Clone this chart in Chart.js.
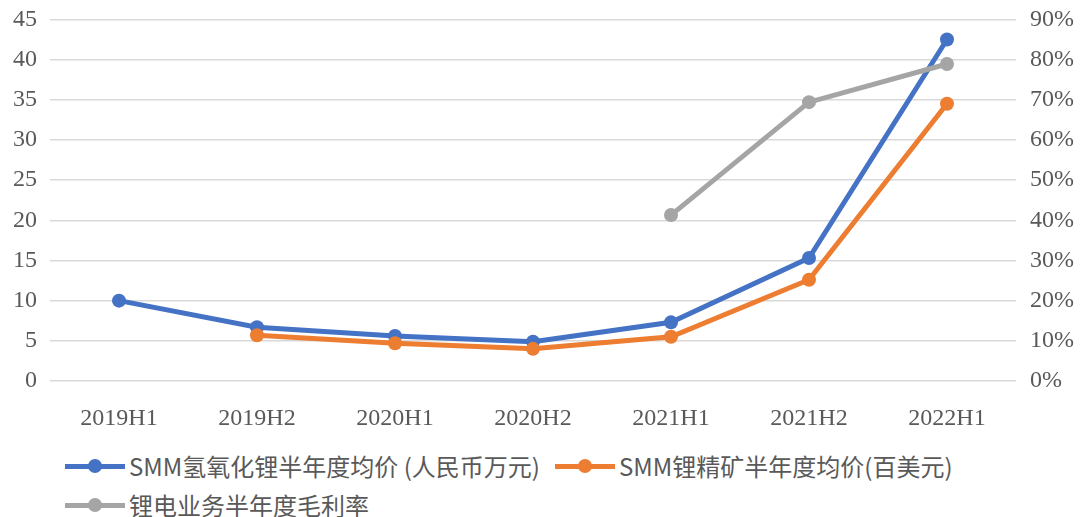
<!DOCTYPE html>
<html lang="zh">
<head>
    <meta charset="UTF-8">
    <title>锂价与毛利率</title>
    <style>
        body {
            margin: 0;
            background: #fff;
            width: 1082px;
            height: 517px;
            overflow: hidden;
        }

        .wrap {
            position: relative;
            width: 1082px;
            height: 517px;
        }

        #chart {
            position: absolute;
            left: 0;
            top: -9px;
        }

        .legend {
            position: absolute;
            left: 65px;
            top: 448px;
            font-family: 'Noto Sans CJK SC', 'Liberation Sans', sans-serif;
            font-size: 24px;
            color: #595959;
        }

        .legend-item {
            position: absolute;
            white-space: nowrap;
            display: flex;
            align-items: center;
        }

        .legend-item .mark {
            position: relative;
            width: 60px;
            height: 14px;
            margin-right: 4px;
        }

        .legend-item .mark::before {
            content: '';
            position: absolute;
            left: 0;
            right: 0;
            top: 5px;
            height: 5px;
            background: var(--c);
        }

        .legend-item .mark::after {
            content: '';
            position: absolute;
            left: 23px;
            top: 0;
            width: 14px;
            height: 14px;
            border-radius: 50%;
            background: var(--c);
        }
    </style>
    <script src="https://cdn.jsdelivr.net/npm/chart.js"></script>
</head>

<body>
    <div class="wrap">
        <canvas id="chart" width="1082" height="449"></canvas>
        <div class="legend" id="legend"></div>
    </div>

    <script>
        // 数据
        const periods = ["2019H1", "2019H2", "2020H1", "2020H2", "2021H1", "2021H2", "2022H1"];
        const lithiumHydroxide = [10.0, 6.7, 5.6, 4.9, 7.3, 15.3, 42.5];
        const spodumene = [null, 5.7, 4.7, 4.0, 5.5, 12.6, 34.5];
        const grossMargin = [null, null, null, null, 41.3, 69.4, 78.9];

        const leftTicks = [0, 5, 10, 15, 20, 25, 30, 35, 40, 45];
        const rightTicks = [0, 10, 20, 30, 40, 50, 60, 70, 80, 90];

        const seriesNames = [
            "SMM氢氧化锂半年度均价 (人民币万元)",
            "SMM锂精矿半年度均价(百美元)",
            "锂电业务半年度毛利率"
        ];
        const seriesColors = ["#4472C4", "#ED7D31", "#A5A5A5"];

        const tickFont = { family: "'Liberation Serif', serif", size: 24 };

        function lineSet(label, data, color, axis) {
            return {
                label: label,
                data: data,
                yAxisID: axis,
                borderColor: color,
                backgroundColor: color,
                borderWidth: 5,
                pointRadius: 7,
                pointHoverRadius: 7,
                pointBorderWidth: 0,
                tension: 0,
                spanGaps: false
            };
        }

        function drawChart() {
            new Chart(document.getElementById("chart"), {
                type: "line",
                data: {
                    labels: periods,
                    datasets: [
                        lineSet(seriesNames[2], grossMargin, seriesColors[2], "y2"),
                        lineSet(seriesNames[1], spodumene, seriesColors[1], "y"),
                        lineSet(seriesNames[0], lithiumHydroxide, seriesColors[0], "y")
                    ]
                },
                options: {
                    responsive: false,
                    animation: false,
                    layout: { padding: { top: 4, left: 0, right: 0, bottom: 0 } },
                    plugins: {
                        legend: { display: false },
                        tooltip: { enabled: false }
                    },
                    scales: {
                        x: {
                            offset: true,
                            grid: { display: false },
                            border: { display: false },
                            ticks: { font: tickFont, color: "#595959", padding: 15 },
                            afterFit: (s) => { s.height = 59; }
                        },
                        y: {
                            position: "left",
                            min: 0,
                            max: 45,
                            afterBuildTicks: (s) => { s.ticks = leftTicks.map(v => ({ value: v })); },
                            grid: { color: "#d9d9d9", lineWidth: 1.5, drawTicks: false },
                            border: { display: false },
                            ticks: { font: tickFont, color: "#595959", padding: 13 },
                            afterFit: (s) => { s.width = 50; }
                        },
                        y2: {
                            position: "right",
                            min: 0,
                            max: 90,
                            afterBuildTicks: (s) => { s.ticks = rightTicks.map(v => ({ value: v })); },
                            grid: { display: false, drawTicks: false },
                            border: { display: false },
                            ticks: {
                                font: tickFont,
                                color: "#595959",
                                padding: 14,
                                callback: (v) => v + "%"
                            },
                            afterFit: (s) => { s.width = 66; }
                        }
                    }
                }
            });
        }

        // 图例
        const legendBox = document.getElementById("legend");
        const legendPos = [[0, 0], [490, 0], [0, 39]];
        seriesNames.forEach((name, i) => {
            const item = document.createElement("div");
            item.className = "legend-item";
            item.style.left = legendPos[i][0] + "px";
            item.style.top = legendPos[i][1] + "px";
            item.innerHTML = `<span class="mark" style="--c:${seriesColors[i]}"></span><span>${name}</span>`;
            legendBox.appendChild(item);
        });

        document.fonts.load("24px 'Liberation Serif'").then(drawChart, drawChart);
    </script>
</body>

</html>
